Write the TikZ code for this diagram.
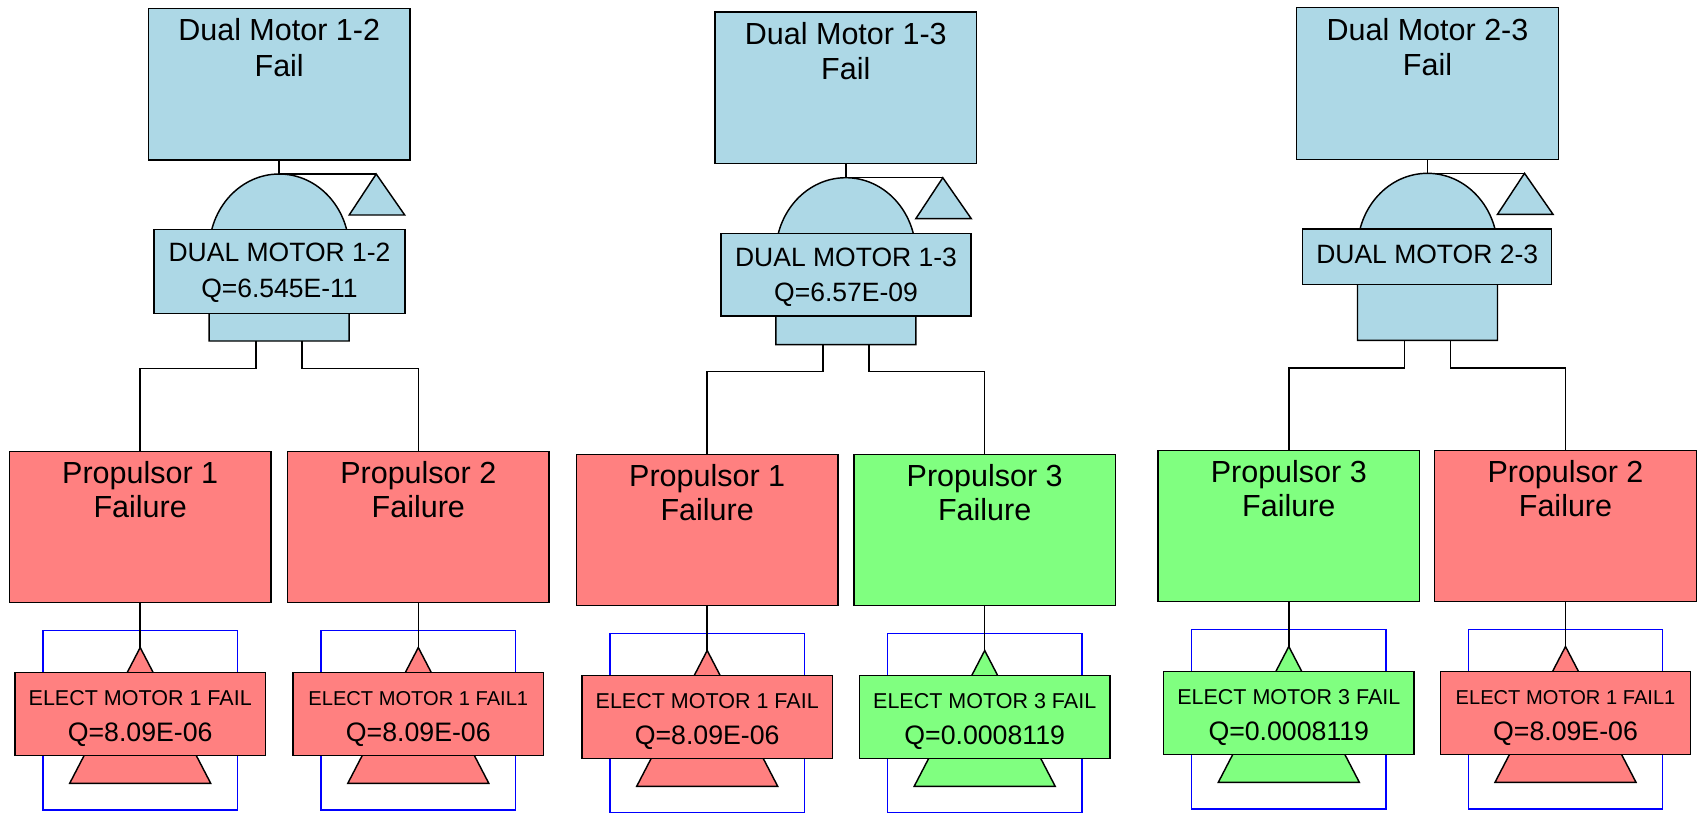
\documentclass[tikz,border=0pt]{standalone}
\usepackage{fontspec}
\setmainfont{Liberation Sans}
\definecolor{gblue}{RGB}{173,216,230}
\definecolor{pred}{RGB}{255,128,128}
\definecolor{pgreen}{RGB}{128,255,128}
\tikzset{
  ln/.style={line width=1.45pt, draw=black},
  boxshape/.style={rectangle, draw=black, line width=1.45pt, inner sep=0pt, outer sep=0pt},
  bigtext/.style={font=\fontsize{30.5}{34}\selectfont, inner sep=0pt, anchor=base},
  gatetext/.style={font=\fontsize{26.5}{30}\selectfont, inner sep=0pt, anchor=base},
  evtext/.style={inner sep=0pt, anchor=base},
  qtext/.style={font=\fontsize{26.7}{30}\selectfont, inner sep=0pt, anchor=base},
  bluebox/.style={rectangle, draw=blue, line width=1.4pt, inner sep=0pt, outer sep=0pt, minimum width=194.5pt, minimum height=179.7pt},
}
\newcommand{\ftgate}[5]{%
  \node[boxshape, fill=gblue, minimum width=261.7pt, minimum height=151.7pt] (#1top) at ({#2},{#3+84.2}) {};
  \node[bigtext] (#1tA) at ({#2},{#3+40.7}) {#4};
  \node[bigtext] (#1tB) at ({#2},{#3+76}) {#5};
  \coordinate (#1gtop) at ({#2},{#3+174});
  \coordinate (#1xfer) at ({#2+97},{#3+174});
  \coordinate (#1oL) at ({#2-23},{#3+341});
  \coordinate (#1oR) at ({#2+23},{#3+341});
  \draw[ln, fill=gblue] ({#2-70},{#3+341}) -- ({#2-70},{#3+250}) arc[start angle=180, end angle=0, x radius=70pt, y radius=76pt] -- ({#2+70},{#3+341}) -- cycle;
  \draw[ln, fill=gblue] (#1xfer) -- ({#2+70},{#3+215}) -- ({#2+125.5},{#3+215}) -- cycle;
  \draw[ln] (#1top.south) -- (#1gtop) -- (#1xfer);
}
\newcommand{\ftleaf}[8]{%
  \node[boxshape, fill=#4, minimum width=261.5pt, minimum height=150.6pt] (#1p) at ({#2},{#3+527}) {};
  \node[bigtext] (#1pA) at ({#2},{#3+483.3}) {#5};
  \node[bigtext] (#1pB) at ({#2},{#3+517.7}) {Failure};
  \node[bluebox] (#1br) at ({#2},{#3+720.2}) {};
  \coordinate (#1apex) at ({#2},{#3+647.5});
  \draw[ln, fill=#4] (#1apex) -- ({#2+70.5},{#3+783.3}) -- ({#2-70.5},{#3+783.3}) -- cycle;
  \draw[ln] (#1p.south) -- (#1apex);
  \node[boxshape, fill=#4, minimum width=250.5pt, minimum height=83pt] (#1lab) at ({#2},{#3+713.8}) {};
  \node[evtext, font=\fontsize{#8}{24}\selectfont] (#1eA) at ({#2},{#3+705}) {#6};
  \node[qtext] (#1eB) at ({#2},{#3+741}) {#7};
}
\begin{document}
\begin{tikzpicture}[x=1pt, y=-1pt]
\fill[white] (0,0) rectangle (1697,812);
\useasboundingbox (0,0) rectangle (1697,812);

% ---------- Tree 1 ----------
\ftgate{a}{279.2}{0}{Dual Motor 1-2}{Fail}
\node[boxshape, fill=gblue, minimum width=251pt, minimum height=84pt] (aglab) at (279.5,271.3) {};
\node[gatetext] (aglA) at (279.5,261.7) {DUAL MOTOR 1-2};
\node[gatetext] (aglB) at (279.5,297.7) {Q=6.545E-11};
\ftleaf{b}{140.2}{0}{pred}{Propulsor 1}{ELECT MOTOR 1 FAIL}{Q=8.09E-06}{21.5}
\ftleaf{c}{418.3}{0}{pred}{Propulsor 2}{ELECT MOTOR 1 FAIL1}{Q=8.09E-06}{20.1}
\draw[ln] (aoL) -- ++(0,27.3) -| (bp.north);
\draw[ln] (aoR) -- ++(0,27.3) -| (cp.north);

% ---------- Tree 2 ----------
\ftgate{h}{845.8}{3.7}{Dual Motor 1-3}{Fail}
\node[boxshape, fill=gblue, minimum width=250pt, minimum height=82.7pt] (hglab) at (846,274.7) {};
\node[gatetext] (hglA) at (846,266) {DUAL MOTOR 1-3};
\node[gatetext] (hglB) at (846,301.5) {Q=6.57E-09};
\ftleaf{d}{707.2}{3}{pred}{Propulsor 1}{ELECT MOTOR 1 FAIL}{Q=8.09E-06}{21.5}
\ftleaf{e}{984.7}{3}{pgreen}{Propulsor 3}{ELECT MOTOR 3 FAIL}{Q=0.0008119}{21.5}
\draw[ln] (hoL) -- ++(0,27) -| (dp.north);
\draw[ln] (hoR) -- ++(0,27) -| (ep.north);

% ---------- Tree 3 ----------
\ftgate{k}{1427.5}{-0.7}{Dual Motor 2-3}{Fail}
\node[boxshape, fill=gblue, minimum width=249pt, minimum height=55.3pt] (kglab) at (1427.2,256.7) {};
\node[gatetext] (kglA) at (1427.2,263.3) {DUAL MOTOR 2-3};
\ftleaf{f}{1288.8}{-1}{pgreen}{Propulsor 3}{ELECT MOTOR 3 FAIL}{Q=0.0008119}{21.5}
\ftleaf{g}{1565.5}{-1}{pred}{Propulsor 2}{ELECT MOTOR 1 FAIL1}{Q=8.09E-06}{20.1}
\draw[ln] (koL) -- ++(0,27.8) -| (fp.north);
\draw[ln] (koR) -- ++(0,27.8) -| (gp.north);
\end{tikzpicture}
\end{document}
